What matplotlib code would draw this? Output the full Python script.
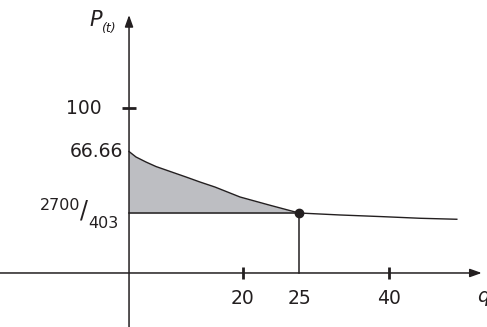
import numpy as np
import matplotlib.pyplot as plt

# schematic axes: the picture is not drawn to scale, so each labelled value
# is tied to how far from the origin it is drawn (pixels)
q_knots = [-30, 0, 20, 25, 40, 60]
q_draw = [-170.6, 0, 113.7, 170, 260, 380]
p_eq = 2700 / 403
p_knots = [-10, 0, p_eq, 66.66, 100, 200]
p_draw = [-89.6, 0, 60, 121.5, 165, 295.5]

# curve
q = [0, 1.23, 2.99, 4.75, 6.51, 8.27, 10.03, 12.49, 15.13, 19.53, 22.34, 25,
     31.8, 39.0, 45.2, 51.3]
p = [66.66, 61.3, 56.4, 52.0, 48.6, 45.2, 41.8, 36.9, 32.0, 22.3, 14.5, p_eq,
     6.48, 6.29, 6.11, 6.0]
q_eq = 25

x_ticks = [20, 40]
x_labels = ['20', '25', '40']
x_label_pos = [20, 25, 40]

ink = '#231f20'
plt.rcParams['font.family'] = 'DejaVu Sans'

fig = plt.figure(figsize=(4.87, 3.27), dpi=100)
ax = fig.add_axes([0, 0, 1, 1])
ax.set_xscale('function', functions=(lambda v: np.interp(v, q_knots, q_draw),
                                     lambda v: np.interp(v, q_draw, q_knots)))
ax.set_yscale('function', functions=(lambda v: np.interp(v, p_knots, p_draw),
                                     lambda v: np.interp(v, p_draw, p_knots)))
ax.set_xlim(-22.69, 56.33)
ax.set_ylim(-6.03, 182.8)
ax.axis('off')

# shaded area between curve and equilibrium price
n = q.index(q_eq) + 1
ax.fill_between(q[:n], p[:n], p_eq, color='#bdbec2', lw=0, zorder=1)
ax.plot([0, q_eq], [p_eq, p_eq], color=ink, lw=1.1, zorder=2)
ax.plot([q_eq, q_eq], [0, p_eq], color=ink, lw=1.1, zorder=2)
ax.plot(q, p, color=ink, lw=1.0, zorder=3)
ax.plot([q_eq], [p_eq], 'o', color=ink, ms=6, zorder=4)

# axes with arrows
arrow = dict(arrowstyle='-|>,head_length=0.7,head_width=0.25', lw=1.1,
             color=ink, mutation_scale=10, shrinkA=0, shrinkB=0)
ax.annotate('', xy=(55.45, 0), xytext=(-22.69, 0), arrowprops=arrow)
ax.annotate('', xy=(0, 171.3), xytext=(0, -6.03), arrowprops=arrow)

# tick marks
ax.plot(x_ticks, [0] * len(x_ticks), '|', color=ink, ms=9, mew=2)
ax.plot([0], [100], '_', color=ink, ms=9.5, mew=2)

def label(s, xy, dx, dy, size=13.5, ha='center', **kw):
    ax.annotate(s, xy=xy, xytext=(dx, dy), textcoords='offset pixels',
                ha=ha, va='center', fontsize=size, color=ink, **kw)

for s, x in zip(x_labels, x_label_pos):
    label(s, (x, 0), 0, -26)

label('100', (0, 100), -27, 0, ha='right')
label('66.66', (0, 66.66), -6, 0, ha='right')
label('2700', (0, p_eq), -49, 8, size=11.5, ha='right')
label('/', (0, p_eq), -45, 3, size=17)
label('403', (0, p_eq), -11, -10, size=11.5, ha='right')

label('P', (0, 171.3), -33.5, -4.5, size=15, style='italic')
label('(t)', (0, 171.3), -21, -13, size=9, style='italic')
label('q', (55.45, 0), -5, -24, size=14, ha='left', style='italic')

fig.savefig('out.png', dpi=100)
